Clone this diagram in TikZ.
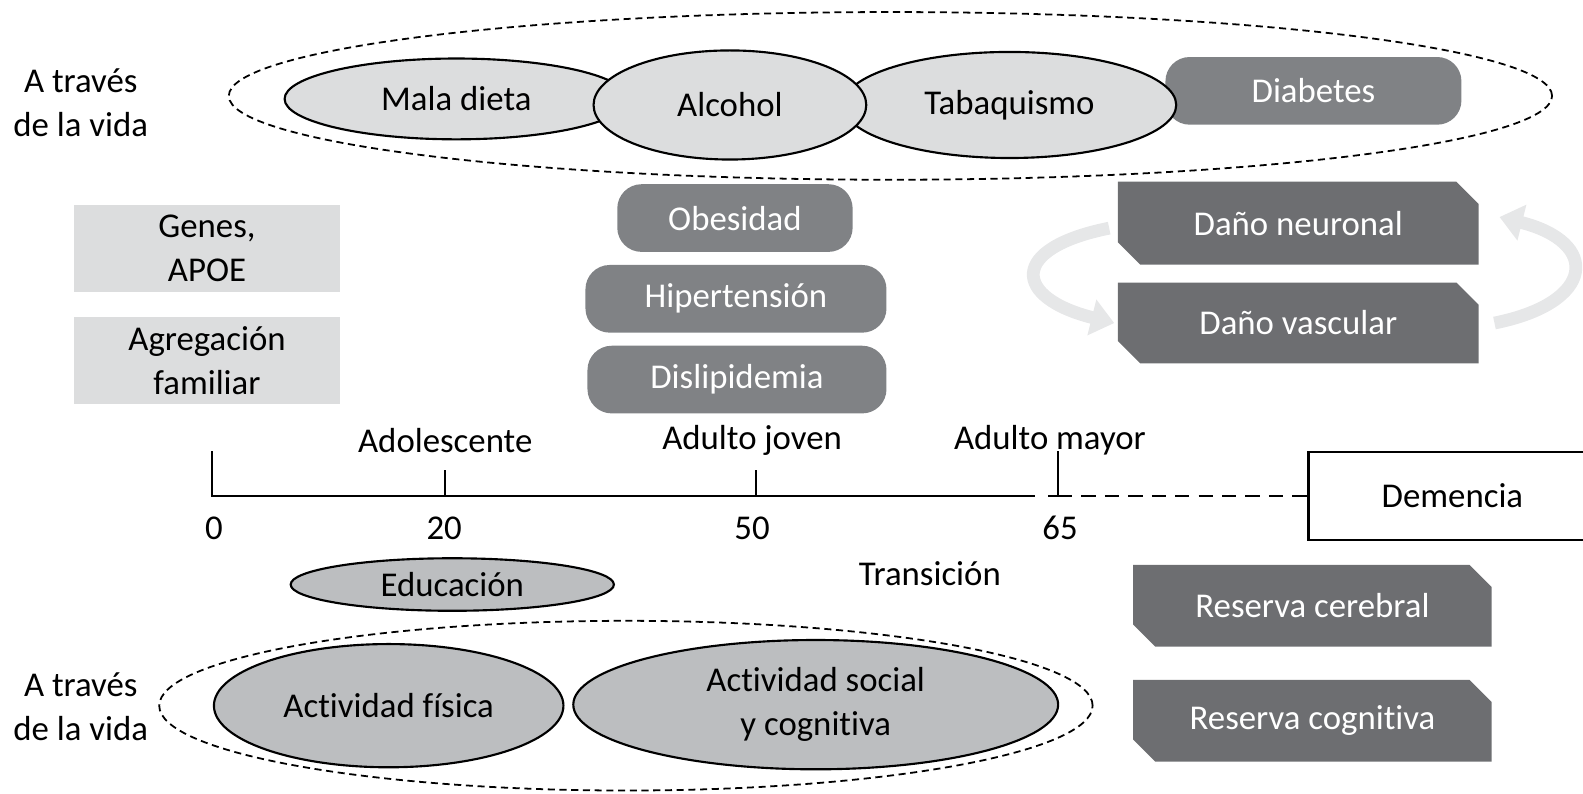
\documentclass[tikz,border=0pt]{standalone}
\usepackage{fontspec}
\setmainfont{Carlito}[Ligatures=NoCommon]
\usetikzlibrary{shapes.geometric,shapes.misc,arrows.meta}

\definecolor{grisclaro}{HTML}{DCDDDE}
\definecolor{grismedio}{HTML}{BCBEC0}
\definecolor{grisboton}{HTML}{808285}
\definecolor{grisoscuro}{HTML}{6D6E71}
\definecolor{grisflecha}{HTML}{E6E7E8}

\tikzset{
    base/.style={font=\fontsize{9.8}{12.3}\selectfont, align=center, inner sep=0pt},
    lifestyle/.style={base, ellipse, draw, semithick, fill=grisclaro},
    protect/.style={base, ellipse, draw, semithick, fill=grismedio},
    riskbox/.style={base, rectangle, rounded corners=2.4mm, fill=grisboton, text=white,
        minimum height=0.67cm},
    damagebox/.style={base, chamfered rectangle, chamfered rectangle corners={north east,south west},
        chamfered rectangle sep=1.1mm, fill=grisoscuro, text=white},
    genebox/.style={base, rectangle, fill=grisclaro, minimum width=2.63cm, minimum height=0.86cm},
    lifespan/.style={ellipse, draw, line width=0.5pt, dash pattern=on 2pt off 1.3pt, inner sep=0pt},
    cyclearrow/.style={grisflecha, line width=3.6pt, -{Triangle[width=10pt,length=6.5pt]}},
    timedash/.style={semithick, dash pattern=on 4pt off 2.6pt}
}

\begin{document}
\begin{tikzpicture}[x=0.01cm, y=-0.01cm]
    \useasboundingbox (0,0) rectangle (1568,786);

    % Across life - top group
    \node[lifespan, minimum width=13.1cm, minimum height=1.66cm] (vidaTop) at (882,95) {};
    \node[base] (labelTop) at (80,102) {A través\\de la vida};
    \node[riskbox, minimum width=2.93cm] (diabetes) at (1301,90) {Diabetes};
    \node[lifestyle, minimum width=3.4cm, minimum height=0.8cm] (dieta) at (452,98) {Mala dieta};
    \node[lifestyle, minimum width=3.3cm, minimum height=1.05cm] (tabaco) at (1000,104) {Tabaquismo};
    \node[lifestyle, minimum width=2.7cm, minimum height=1.08cm] (alcohol) at (723,104) {Alcohol};

    % Middle-age risk factors
    \node[riskbox, minimum width=2.33cm] (obesidad) at (728,216) {Obesidad};
    \node[riskbox, minimum width=2.98cm] (hipertension) at (729,296) {Hipertensión};
    \node[riskbox, minimum width=2.96cm] (dislipidemia) at (730,376) {Dislipidemia};

    % Genetic factors
    \node[genebox] (genes) at (205,246) {Genes,\\APOE};
    \node[genebox] (agregacion) at (205,357) {Agregación\\familiar};

    % Damage loop
    \node[damagebox, minimum width=3.57cm, minimum height=0.82cm] (neuronal) at (1286,221) {Daño neuronal};
    \node[damagebox, minimum width=3.57cm, minimum height=0.8cm] (vascular) at (1286,320) {Daño vascular};
    \draw[cyclearrow] ([xshift=-0.8mm,yshift=-0.5mm]neuronal.west)
        .. controls +(-1cm,-0.2cm) and +(-1cm,0.25cm) .. ([xshift=-0.3mm]vascular.west);
    \draw[cyclearrow] ([xshift=1.5mm]vascular.east)
        .. controls +(1cm,0.2cm) and +(1cm,-0.25cm) .. ([xshift=2mm,yshift=0.6mm]neuronal.east);

    % Timeline
    \coordinate (t0) at (210,491);
    \coordinate (t20) at (441,491);
    \coordinate (t50) at (749,491);
    \coordinate (t65) at (1048,491);
    \coordinate (tend) at (1025,491);
    \node[base, minimum width=2.85cm, minimum height=0.87cm, draw, semithick, anchor=west, fill=white]
        (demencia) at (1295,491) {Demencia};
    \draw[semithick] (t0) ++(0,-44) -- (t0) -- (tend);
    \draw[semithick] (t20) -- ++(0,-25);
    \draw[semithick] (t50) -- ++(0,-25);
    \draw[semithick] (t65) ++(0,-44) -- (t65) -- ++(-10,0);
    \draw[timedash] (t65) -- (demencia.west);
    \node[base] (l0) at (212,523) {0};
    \node[base] (l20) at (440,523) {20};
    \node[base] (l50) at (745,523) {50};
    \node[base] (l65) at (1050,523) {65};
    \node[base] (adolescente) at (441,436) {Adolescente};
    \node[base] (joven) at (745,436) {Adulto joven};
    \node[base] (mayor) at (1040,436) {Adulto mayor};
    \node[base] (transicion) at (921,568) {Transición};

    % Protective factors
    \node[protect, minimum width=3.2cm, minimum height=0.52cm] (educacion) at (448,579) {Educación};
    \node[lifespan, minimum width=9.24cm, minimum height=1.68cm] (vidaBot) at (620,699) {};
    \node[base] (labelBot) at (80,700) {A través\\de la vida};
    \node[protect, minimum width=3.46cm, minimum height=1.22cm] (fisica) at (385,699) {Actividad física};
    \node[protect, minimum width=4.8cm, minimum height=1.28cm] (social) at (808,698) {Actividad social\\y cognitiva};

    % Reserve
    \node[damagebox, minimum width=3.55cm, minimum height=0.81cm] (cerebral) at (1300,600) {Reserva cerebral};
    \node[damagebox, minimum width=3.55cm, minimum height=0.81cm] (cognitiva) at (1300,714) {Reserva cognitiva};
\end{tikzpicture}
\end{document}
